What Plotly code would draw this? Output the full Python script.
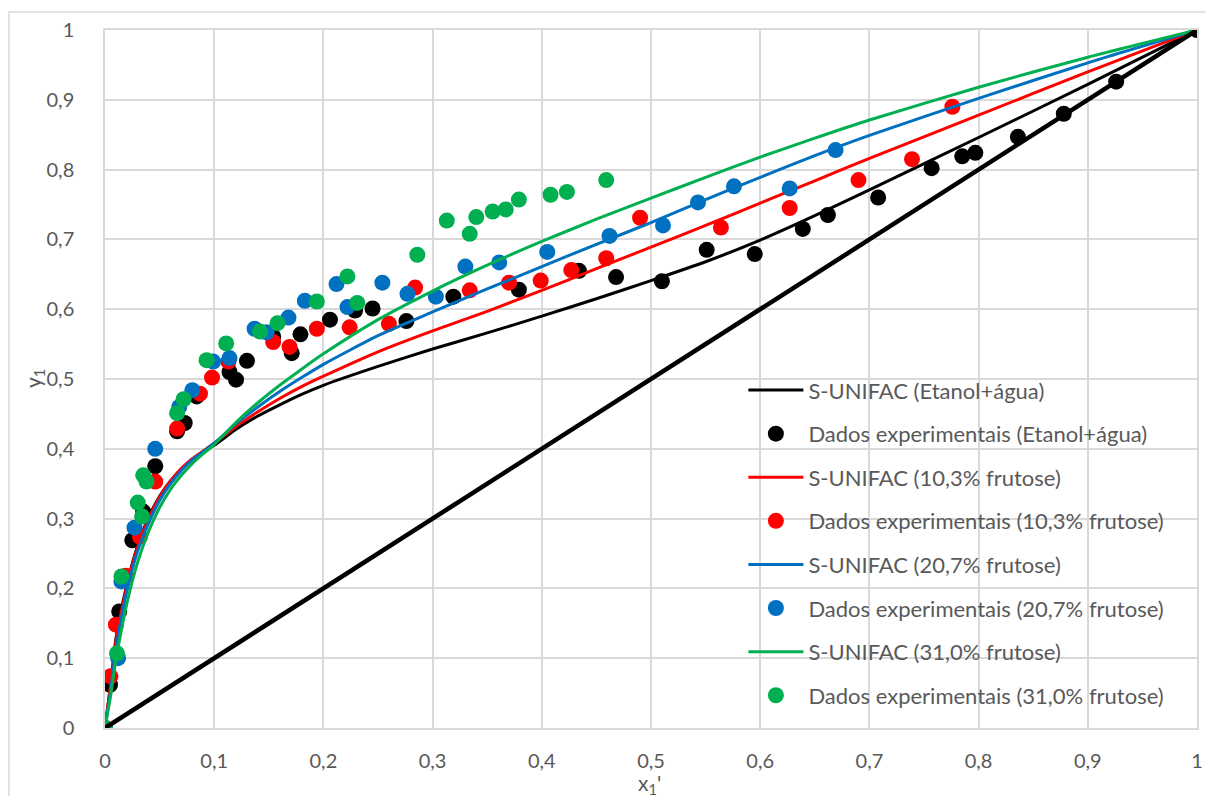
import plotly.graph_objects as go

# ---- model curves (S-UNIFAC) ----
x_model = [0, 0.005, 0.01, 0.02, 0.03, 0.04, 0.05, 0.06, 0.07, 0.08, 0.09, 0.1,
           0.12, 0.14, 0.16, 0.18, 0.2, 0.25, 0.3, 0.35, 0.4, 0.45, 0.5, 0.55, 0.6, 0.65,
           0.7, 0.8, 0.9, 1.0]
y_model_etanol = [0, 0.06, 0.128, 0.205, 0.262, 0.302, 0.332, 0.354, 0.371, 0.385, 0.396, 0.405,
                  0.428, 0.447, 0.463, 0.478, 0.491, 0.518, 0.543, 0.566, 0.590, 0.615, 0.641, 0.668,
                  0.699, 0.734, 0.771, 0.846, 0.922, 1.0]
y_model_103 = [0, 0.06, 0.124, 0.203, 0.26, 0.300, 0.331, 0.354, 0.372, 0.386, 0.397, 0.408,
               0.432, 0.453, 0.472, 0.489, 0.504, 0.539, 0.569, 0.597, 0.627, 0.658, 0.689, 0.720,
               0.752, 0.784, 0.816, 0.878, 0.940, 1.0]
y_model_207 = [0, 0.052, 0.112, 0.196, 0.254, 0.294, 0.326, 0.350, 0.369, 0.384, 0.396, 0.408,
               0.436, 0.460, 0.482, 0.502, 0.521, 0.562, 0.596, 0.629, 0.661, 0.693, 0.724, 0.757,
               0.789, 0.820, 0.849, 0.902, 0.953, 1.0]
y_model_310 = [0, 0.045, 0.097, 0.178, 0.238, 0.282, 0.316, 0.342, 0.362, 0.379, 0.393, 0.406,
               0.438, 0.466, 0.491, 0.514, 0.536, 0.585, 0.626, 0.663, 0.697, 0.729, 0.759, 0.789,
               0.818, 0.845, 0.871, 0.918, 0.961, 1.0]

# ---- experimental data ----
x_exp_etanol = [0, 0.0046, 0.013, 0.025, 0.035, 0.046, 0.066, 0.073, 0.084, 0.114, 0.120, 0.130,
                0.154, 0.171, 0.179, 0.206, 0.229, 0.245, 0.276, 0.319, 0.379, 0.434, 0.468, 0.510,
                0.551, 0.595, 0.639, 0.662, 0.708, 0.757, 0.785, 0.797, 0.836, 0.878, 0.926, 1.0]
y_exp_etanol = [0, 0.062, 0.167, 0.269, 0.310, 0.375, 0.425, 0.437, 0.475, 0.510, 0.499, 0.526,
                0.561, 0.537, 0.564, 0.585, 0.598, 0.601, 0.583, 0.618, 0.628, 0.655, 0.646, 0.640,
                0.685, 0.679, 0.715, 0.735, 0.760, 0.802, 0.819, 0.824, 0.847, 0.880, 0.926, 1.0]

x_exp_103 = [0, 0.005, 0.010, 0.019, 0.032, 0.046, 0.066, 0.087, 0.098, 0.113, 0.154, 0.169, 0.194,
             0.224, 0.260, 0.284, 0.334, 0.370, 0.399, 0.427, 0.459, 0.490, 0.564, 0.627, 0.690, 0.739, 0.776]
y_exp_103 = [0, 0.074, 0.148, 0.218, 0.274, 0.353, 0.429, 0.479, 0.502, 0.525, 0.553, 0.546, 0.572,
             0.574, 0.579, 0.631, 0.627, 0.638, 0.641, 0.656, 0.673, 0.731, 0.717, 0.745, 0.785, 0.815, 0.890]

x_exp_207 = [0, 0.012, 0.015, 0.027, 0.046, 0.068, 0.080, 0.099, 0.114, 0.137, 0.148, 0.168, 0.183,
             0.212, 0.222, 0.254, 0.277, 0.303, 0.330, 0.361, 0.405, 0.462, 0.511, 0.543, 0.576, 0.627, 0.669]
y_exp_207 = [0, 0.100, 0.210, 0.287, 0.400, 0.460, 0.484, 0.525, 0.530, 0.572, 0.567, 0.588, 0.612,
             0.636, 0.603, 0.638, 0.622, 0.618, 0.661, 0.667, 0.682, 0.705, 0.720, 0.753, 0.776, 0.773, 0.828]

x_exp_310 = [0, 0.011, 0.015, 0.030, 0.034, 0.035, 0.038, 0.066, 0.072, 0.093, 0.111, 0.142, 0.158,
             0.194, 0.222, 0.231, 0.286, 0.313, 0.334, 0.340, 0.355, 0.367, 0.379, 0.408, 0.423, 0.459]
y_exp_310 = [0, 0.107, 0.217, 0.323, 0.303, 0.362, 0.353, 0.451, 0.471, 0.527, 0.551, 0.568, 0.580,
             0.611, 0.647, 0.609, 0.678, 0.727, 0.708, 0.732, 0.740, 0.743, 0.757, 0.764, 0.768, 0.785]

x_diag = [0, 1]
y_diag = [0, 1]

series = [
    ("S-UNIFAC (Etanol+água)", "Dados experimentais (Etanol+água)", "#000000",
     y_model_etanol, x_exp_etanol, y_exp_etanol),
    ("S-UNIFAC (10,3% frutose)", "Dados experimentais (10,3% frutose)", "#FF0000",
     y_model_103, x_exp_103, y_exp_103),
    ("S-UNIFAC (20,7% frutose)", "Dados experimentais (20,7% frutose)", "#0070C0",
     y_model_207, x_exp_207, y_exp_207),
    ("S-UNIFAC (31,0% frutose)", "Dados experimentais (31,0% frutose)", "#00B050",
     y_model_310, x_exp_310, y_exp_310),
]

FONT = "Lato"
GRAY = "#595959"
GRID = "#d9d9d9"

fig = go.Figure()
for i, (lname, pname, color, ym, xe, ye) in enumerate(series):
    fig.add_trace(go.Scatter(x=x_model, y=ym, mode="lines", name=lname,
                             line=dict(color=color, width=3, shape="spline", smoothing=0.6),
                             legendgroup=f"g{2*i}"))
    fig.add_trace(go.Scatter(x=xe, y=ye, mode="markers", name=pname,
                             marker=dict(color=color, size=16, line=dict(width=0)),
                             legendgroup=f"g{2*i+1}"))

fig.add_trace(go.Scatter(x=x_diag, y=y_diag, mode="lines", showlegend=False,
                         line=dict(color="#000000", width=4.5)))

axis_common = dict(range=[0, 1], dtick=0.1, tick0=0, showgrid=True, gridcolor=GRID, gridwidth=1.5,
                   zeroline=False, showline=True, linecolor=GRID, linewidth=1.5, mirror=True,
                   ticks="", tickfont=dict(family=FONT, size=20, color=GRAY),
                   automargin=False, fixedrange=True)

fig.update_layout(
    width=1206, height=796,
    margin=dict(l=105, r=9, t=30, b=68, autoexpand=False),
    paper_bgcolor="white", plot_bgcolor="white",
    separators=",.",
    font=dict(family=FONT, color=GRAY),
    xaxis=dict(axis_common, ticklabelstandoff=14),
    yaxis=dict(axis_common, ticklabelstandoff=25),
    legend=dict(x=0.5846, y=0.514, xanchor="left", yanchor="top",
                bgcolor="rgba(0,0,0,0)", font=dict(family=FONT, size=22, color=GRAY),
                tracegroupgap=12, itemwidth=55),
    shapes=[dict(type="rect", xref="paper", yref="paper",
                 x0=-0.0879, x1=1.02, y0=-0.2, y1=1.0258,
                 line=dict(color=GRID, width=1.5), layer="below")],
    annotations=[
        dict(text="y<sub>1</sub>", xref="paper", yref="paper", x=-0.065, y=0.5,
             xanchor="center", yanchor="middle",
             showarrow=False, textangle=-90, font=dict(family=FONT, size=21, color=GRAY)),
        dict(text="x<sub>1</sub>'", xref="paper", yref="paper", x=0.499, y=-0.0805,
             xanchor="center", yanchor="middle",
             showarrow=False, font=dict(family=FONT, size=21, color=GRAY)),
    ],
)

fig.write_html("out.html", post_script="document.body.style.margin='0';",
               config={"displayModeBar": False})
